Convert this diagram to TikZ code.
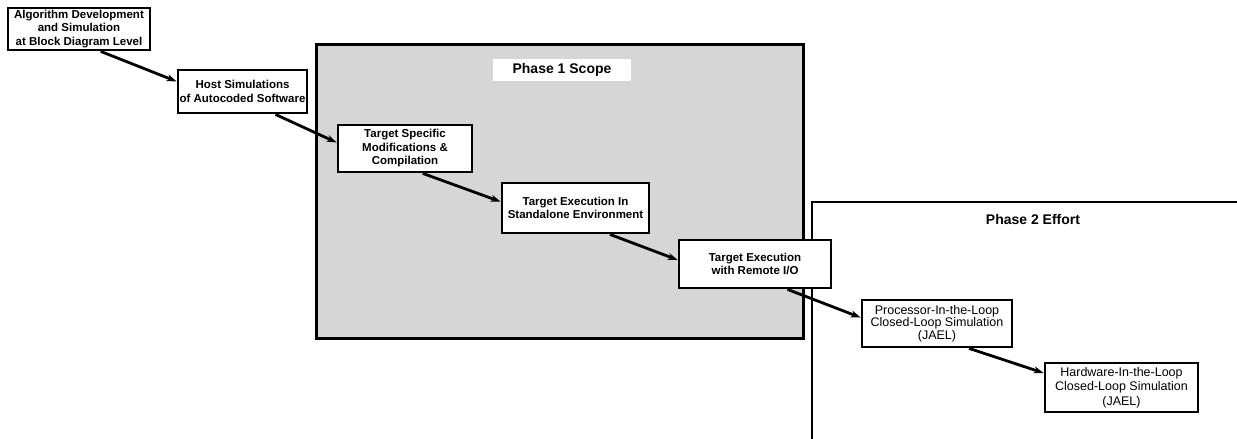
\documentclass[tikz,border=0pt]{standalone}
\usepackage{fontspec}
\setsansfont{Liberation Sans}
\usetikzlibrary{arrows.meta,calc}
\begin{document}
\begin{tikzpicture}[x=1pt,y=-1pt,
  box/.style={draw, line width=2.8pt, fill=white, align=center, inner sep=0pt,
    font=\sffamily\bfseries\fontsize{11.5}{13.5}\selectfont},
  lightbox/.style={box, font=\sffamily\fontsize{12.5}{12.5}\selectfont},
  conn/.style={line width=2.8pt, -{Stealth[length=10pt,width=7pt]}},
  phasetitle/.style={font=\sffamily\bfseries\fontsize{14}{16}\selectfont},
  phaseline/.style={line width=2.2pt}]
\useasboundingbox (0,0) rectangle (1237,439);
% Phase 1 region
\node[draw, line width=2.8pt, fill=black!16, minimum width=487pt, minimum height=294pt,
  inner sep=0pt, anchor=north west] (p1) at (315,43) {};
\node[phasetitle, fill=white, inner xsep=20pt, inner ysep=4pt] (t1) at (562,70) {Phase 1 Scope};
% Phase 2 region (open frame)
\coordinate (p2bl) at (812,441);
\coordinate (p2tl) at (812,202);
\coordinate (p2tr) at (1239,202);
\draw[phaseline] (p2bl) -- (p2tl) -- (p2tr);
\node[phasetitle] (t2) at (1033,219) {Phase 2 Effort};
% boxes
\node[box, minimum width=142pt, minimum height=42pt] (a) at (79,29)
  {Algorithm Development\\and Simulation\\at Block Diagram Level};
\node[box, minimum width=129pt, minimum height=43pt] (b) at (242.5,91.5)
  {Host Simulations\\of Autocoded Software};
\node[box, minimum width=134pt, minimum height=47pt] (c) at (405,148.5)
  {Target Specific\\Modifications \&\\Compilation};
\node[box, minimum width=147pt, minimum height=50pt] (d) at (575.5,208)
  {Target Execution In\\Standalone Environment};
\node[box, minimum width=152pt, minimum height=48pt] (e) at (755,264)
  {Target Execution\\with Remote I/O};
\node[lightbox, minimum width=150pt, minimum height=47pt] (f) at (937,323.5)
  {Processor-In-the-Loop\\Closed-Loop Simulation\\(JAEL)};
\node[lightbox, font=\sffamily\fontsize{12.5}{14.5}\selectfont, minimum width=153pt, minimum height=49pt] (g) at (1121.5,387.5)
  {Hardware-In-the-Loop\\Closed-Loop Simulation\\(JAEL)};
% connectors
\draw[conn] ($(a.south west)!0.65!(a.south east)$) -- ($(b.north west)!0.28!(b.south west)$);
\draw[conn] ($(b.south west)!0.75!(b.south east)$) -- ($(c.north west)!0.38!(c.south west)$);
\draw[conn] ($(c.south west)!0.63!(c.south east)$) -- ($(d.north west)!0.38!(d.south west)$);
\draw[conn] ($(d.south west)!0.73!(d.south east)$) -- ($(e.north west)!0.42!(e.south west)$);
\draw[conn] ($(e.south west)!0.71!(e.south east)$) -- ($(f.north west)!0.38!(f.south west)$);
\draw[conn] ($(f.south west)!0.71!(f.south east)$) -- ($(g.north west)!0.22!(g.south west)$);
\end{tikzpicture}
\end{document}
